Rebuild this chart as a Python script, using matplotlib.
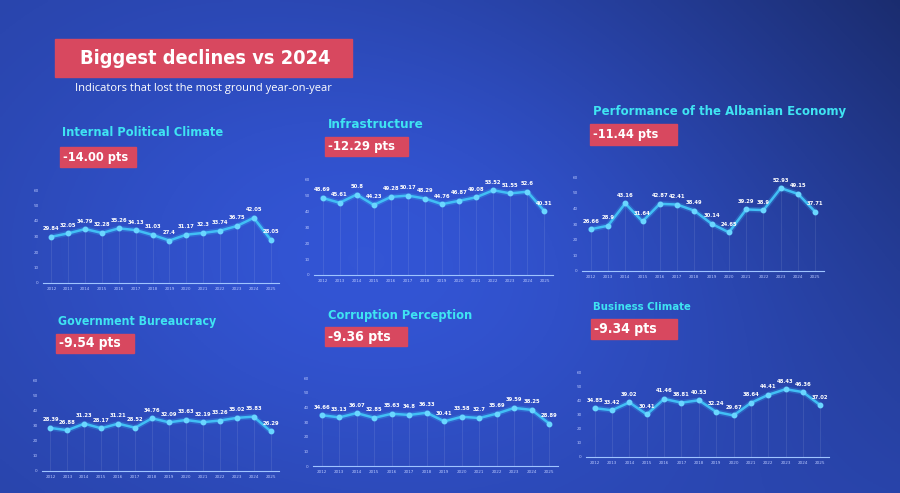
# -*- coding: utf-8 -*-

import numpy as np
import matplotlib.pyplot as plt
from matplotlib.patches import Rectangle
from matplotlib import font_manager

years = [str(y) for y in range(2012, 2026)]

titles = ['Internal Political Climate', 'Infrastructure', 'Performance of the Albanian Economy',
          'Government Bureaucracy', 'Corruption Perception', 'Business Climate']
drops = ['-14.00 pts', '-12.29 pts', '-11.44 pts', '-9.54 pts', '-9.36 pts', '-9.34 pts']

political = [29.84, 32.05, 34.79, 32.28, 35.26, 34.13, 31.03, 27.40, 31.17, 32.30, 33.74, 36.75, 42.05, 28.05]
infrastructure = [48.69, 45.61, 50.80, 44.23, 49.28, 50.17, 48.29, 44.76, 46.87, 49.08, 53.52, 51.55, 52.60, 40.31]
economy = [26.66, 28.90, 43.16, 31.64, 42.87, 42.41, 38.49, 30.14, 24.65, 39.29, 38.90, 52.93, 49.15, 37.71]
bureaucracy = [28.39, 26.88, 31.23, 28.17, 31.21, 28.52, 34.76, 32.09, 33.63, 32.19, 33.26, 35.02, 35.83, 26.29]
corruption = [34.66, 33.13, 36.07, 32.85, 35.63, 34.80, 36.33, 30.41, 33.58, 32.70, 35.69, 39.59, 38.25, 28.89]
business = [34.85, 33.42, 39.02, 30.41, 41.46, 38.81, 40.53, 32.24, 29.67, 38.64, 44.41, 48.43, 46.36, 37.02]

series = [political, infrastructure, economy, bureaucracy, corruption, business]

W, H = 900, 493
# panel boxes in pixels: left, top, width, bottom (plot area), title x/y
panels = [
    (43, 190, 236, 283, 62, 133),
    (314, 180, 239, 275, 328, 125),
    (582, 177, 242, 271, 593, 111),
    (42, 380, 237, 471, 58, 322),
    (313, 378, 245, 466, 328, 315),
    (586, 373, 243, 457, 593, 307),
]
# badge boxes: x0, x1, y0, y1
badges = [
    (60, 136, 147, 167),
    (325, 408, 137, 156),
    (590, 677, 124, 145),
    (56, 134, 334, 353),
    (325, 407, 327, 346),
    (591, 677, 319, 339),
]
title_w = [160, 95, 254, 159, 144, 97]
badge_w = [65, 67, 65, 62, 63, 63]


def pick_condensed():
    # look for any narrow / condensed bold face installed
    for f in font_manager.fontManager.ttflist:
        n = (f.name + ' ' + f.fname).lower()
        narrow = 'narrow' in n or 'condensed' in n or f.stretch in ('condensed', 'semi-condensed')
        if narrow and 'bold' in n and 'italic' not in n and 'oblique' not in n:
            return font_manager.FontProperties(fname=f.fname)
    return font_manager.FontProperties(family='DejaVu Sans', weight='bold')


cond = pick_condensed()

fig = plt.figure(figsize=(9, 4.93), dpi=100)

# background
bg = fig.add_axes([0, 0, 1, 1])
gx = np.linspace(0, 1, 300)
gy = np.linspace(0, 1, 170)
X, Y = np.meshgrid(gx, gy)
shade = 0.62 + 0.2 * np.exp(-((X - 0.45) ** 2 / 0.2 + (Y - 0.5) ** 2 / 0.3)) - 0.22 * X ** 2 * (1 - Y)
base = np.array([0.18, 0.30, 0.75])
img = np.clip(shade[..., None] * base / 0.72, 0, 1)
bg.imshow(img, extent=[0, 1, 0, 1], aspect='auto', origin='upper')
bg.set_xlim(0, 1)
bg.set_ylim(0, 1)
bg.axis('off')

fitted = []  # (text, target width in px)

# header
bg.add_patch(Rectangle((55 / W, 1 - 77 / H), 297 / W, 38 / H, color='#d8485f'))
t = bg.text(80 / W, 1 - 58 / H, 'Biggest declines vs 2024', fontproperties=cond, fontsize=18,
            color='white', va='center')
fitted.append((t, 250))
bg.text(75 / W, 1 - 88 / H, 'Indicators that lost the most ground year-on-year', fontsize=8,
        color='white', family='Open Sans', va='center')

for i, ((left, top, width, bottom, tx, ty), (bx0, bx1, by0, by1), name, drop, vals) in enumerate(
        zip(panels, badges, titles, drops, series)):
    t = bg.text(tx / W, 1 - ty / H, name, fontproperties=cond, fontsize=11, color='#3fe4f2',
                va='center')
    fitted.append((t, title_w[i]))
    bg.add_patch(Rectangle((bx0 / W, 1 - by1 / H), (bx1 - bx0) / W, (by1 - by0) / H,
                           color='#d8485f'))
    t = bg.text((bx0 + 3) / W, 1 - (by0 + by1) / 2 / H, drop, fontproperties=cond, fontsize=10,
                color='white', va='center')
    fitted.append((t, badge_w[i]))

    ax = fig.add_axes([left / W, 1 - bottom / H, width / W, (bottom - top) / H])
    ax.set_facecolor('none')
    x = np.arange(len(years))
    ax.vlines(x, 0, vals, color='white', alpha=0.12, lw=0.5)
    ax.plot(x, vals, color='#37b4f2', lw=4, alpha=0.25, solid_capstyle='round')
    ax.plot(x, vals, color='#41bff5', lw=1.8, marker='o', ms=3.2, mfc='#6ad6ff', mec='#6ad6ff')
    for xi, v in zip(x, vals):
        ax.annotate(format(round(v, 2), 'g'), (xi, v), xytext=(0, 4), textcoords='offset points',
                    ha='center', va='bottom', fontsize=3.8, fontweight='bold', color='white')
    ax.set_xlim(-0.5, len(years) - 0.5)
    ax.set_ylim(0, 60)
    ax.set_yticks(range(0, 61, 10))
    ax.set_xticks(x)
    ax.set_xticklabels(years)
    ax.tick_params(axis='both', length=0, labelsize=3, colors='#b9c8ff', pad=3)
    for s in ['top', 'right', 'left']:
        ax.spines[s].set_visible(False)
    ax.spines['bottom'].set_color('#9fc4ff')
    ax.spines['bottom'].set_linewidth(0.8)

# scale the headline texts so their widths match the slide
fig.canvas.draw()
r = fig.canvas.get_renderer()
for t, target in fitted:
    w = t.get_window_extent(renderer=r).width
    t.set_fontsize(t.get_fontsize() * target / w)

fig.savefig('out.png', dpi=100)
